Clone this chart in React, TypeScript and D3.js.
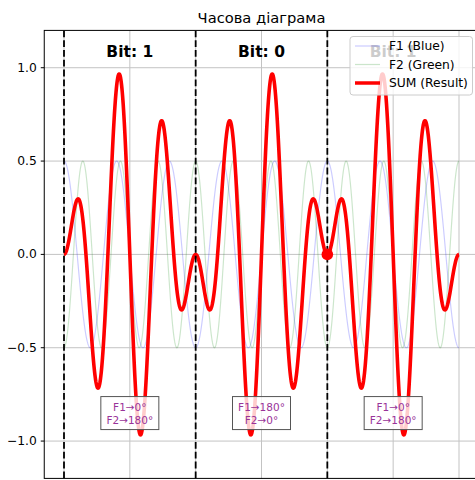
import React from "react";
import * as d3 from "d3";

// ---- data ----
const bits = [1, 0, 1];
const phaseF1 = [0, 180, 0]; // degrees per bit
const phaseF2 = [180, 0, 180];
const freqF1 = 2.5; // cycles per bit
const freqF2 = 3.5;
const amplitude = 0.5;
const yTicks = [-1.0, -0.5, 0.0, 0.5, 1.0];
const xTicks = [0, 0.5, 1, 1.5, 2, 2.5, 3];
const boundaries = [0, 1, 2];
const markerPoint = [2, 0];
const samplesPerBit = 400;

const W = 475;
const H = 480;
const FONT = "DejaVu Sans, sans-serif";

type Pt = { t: number; f1: number; f2: number; s: number };

function buildSignal(): Pt[] {
  const pts: Pt[] = [];
  bits.forEach((_, i) => {
    for (let k = 0; k <= samplesPerBit; k++) {
      const tau = k / samplesPerBit;
      const p1 = (phaseF1[i] * Math.PI) / 180;
      const p2 = (phaseF2[i] * Math.PI) / 180;
      const f1 = amplitude * Math.cos(2 * Math.PI * freqF1 * tau + p1);
      const f2 = amplitude * Math.cos(2 * Math.PI * freqF2 * tau + p2);
      pts.push({ t: i + tau, f1, f2, s: f1 + f2 });
    }
  });
  return pts;
}

export default function App() {
  const left = 44.25, right = 478.75, top = 30.4, bottom = 478.4;
  const x = d3.scaleLinear().domain([-0.15, 3.15]).range([left, right]);
  const y = d3.scaleLinear().domain([-1.2, 1.2]).range([bottom, top]);
  const data = buildSignal();
  const lineF1 = d3.line<Pt>().x((d) => x(d.t)).y((d) => y(d.f1));
  const lineF2 = d3.line<Pt>().x((d) => x(d.t)).y((d) => y(d.f2));
  const lineS = d3.line<Pt>().x((d) => x(d.t)).y((d) => y(d.s));
  const fmt = (v: number) => (v < 0 ? "\u2212" : "") + Math.abs(v).toFixed(1);

  const legendX = 350, legendY = 36.5, legendW = 122.5, legendH = 58.5;
  const legendItems = [
    { label: "F1 (Blue)", color: "blue", width: 1.2, opacity: 0.2 },
    { label: "F2 (Green)", color: "green", width: 1.2, opacity: 0.2 },
    { label: "SUM (Result)", color: "red", width: 3.5, opacity: 1 },
  ];

  return (
    <svg
      width={W}
      height={H}
      style={{ position: "absolute", left: 0, top: 0, background: "white" }}
      fontFamily={FONT}
    >
      <defs>
        <clipPath id="ax">
          <rect x={left} y={top} width={right - left} height={bottom - top} />
        </clipPath>
      </defs>
      <rect x={0} y={0} width={W} height={H} fill="white" />
      {/* grid */}
      <g stroke="#b0b0b0" strokeWidth={1} opacity={0.75}>
        {xTicks.map((t) => (
          <line key={"gx" + t} x1={x(t)} x2={x(t)} y1={top} y2={bottom} />
        ))}
        {yTicks.map((v) => (
          <line key={"gy" + v} x1={left} x2={right} y1={y(v)} y2={y(v)} />
        ))}
      </g>
      <g clipPath="url(#ax)" fill="none">
        <path d={lineF1(data) || ""} stroke="blue" strokeWidth={1.2} opacity={0.2} />
        <path d={lineF2(data) || ""} stroke="green" strokeWidth={1.2} opacity={0.2} />
        <path d={lineS(data) || ""} stroke="red" strokeWidth={3.6} strokeLinejoin="round" />
        {boundaries.map((b) => (
          <line
            key={"b" + b}
            x1={x(b)}
            x2={x(b)}
            y1={top}
            y2={bottom}
            stroke="black"
            strokeWidth={1.8}
            strokeDasharray="6.8 3"
          />
        ))}
        <circle cx={x(markerPoint[0])} cy={y(markerPoint[1])} r={5.8} fill="red" />
      </g>
      {/* bit labels */}
      {bits.map((b, i) => (
        <text
          key={"bl" + i}
          x={x(i + 0.5)}
          y={y(1.085)}
          textAnchor="middle"
          dominantBaseline="central"
          fontWeight="bold"
          fontSize={15.5}
          fill="black"
        >
          {"Bit: " + b}
        </text>
      ))}
      {/* annotation boxes */}
      {bits.map((b, i) => {
        const cx = x(i + 0.5);
        const cy = y(-0.85);
        return (
          <g key={"an" + i}>
            <rect
              x={cx - 29}
              y={cy - 16.5}
              width={58}
              height={33}
              fill="white"
              fillOpacity={0.8}
              stroke="#555"
              strokeWidth={1}
            />
            <text
              x={cx}
              y={cy - 6.5}
              textAnchor="middle"
              dominantBaseline="central"
              fontSize={10.5}
              fill="#993399"
            >
              {"F1\u2192" + phaseF1[i] + "\u00b0"}
            </text>
            <text
              x={cx}
              y={cy + 6.5}
              textAnchor="middle"
              dominantBaseline="central"
              fontSize={10.5}
              fill="#993399"
            >
              {"F2\u2192" + phaseF2[i] + "\u00b0"}
            </text>
          </g>
        );
      })}
      {/* spines */}
      <rect x={left} y={top} width={right - left} height={bottom - top} fill="none" stroke="black" strokeWidth={1} />
      {/* y ticks */}
      {yTicks.map((v) => (
        <g key={"yt" + v}>
          <line x1={left - 3.5} x2={left} y1={y(v)} y2={y(v)} stroke="black" strokeWidth={1} />
          <text
            x={left - 7.5}
            y={y(v)}
            textAnchor="end"
            dominantBaseline="central"
            fontSize={12.3}
            fill="black"
          >
            {fmt(v)}
          </text>
        </g>
      ))}
      {/* title */}
      <text x={(left + right) / 2} y={22.5} textAnchor="middle" fontSize={14.7} fill="black">
        Часова діаграма
      </text>
      {/* legend */}
      <g>
        <rect
          x={legendX}
          y={legendY}
          width={legendW}
          height={legendH}
          rx={3}
          fill="white"
          fillOpacity={0.8}
          stroke="#cccccc"
          strokeWidth={1}
        />
        {legendItems.map((it, i) => {
          const ry = legendY + 9.5 + i * 18.5;
          return (
            <g key={"lg" + i}>
              <line
                x1={legendX + 5}
                x2={legendX + 30}
                y1={ry}
                y2={ry}
                stroke={it.color}
                strokeWidth={it.width}
                opacity={it.opacity}
              />
              <text x={legendX + 39} y={ry} dominantBaseline="central" fontSize={12.3} fill="black">
                {it.label}
              </text>
            </g>
          );
        })}
      </g>
    </svg>
  );
}
